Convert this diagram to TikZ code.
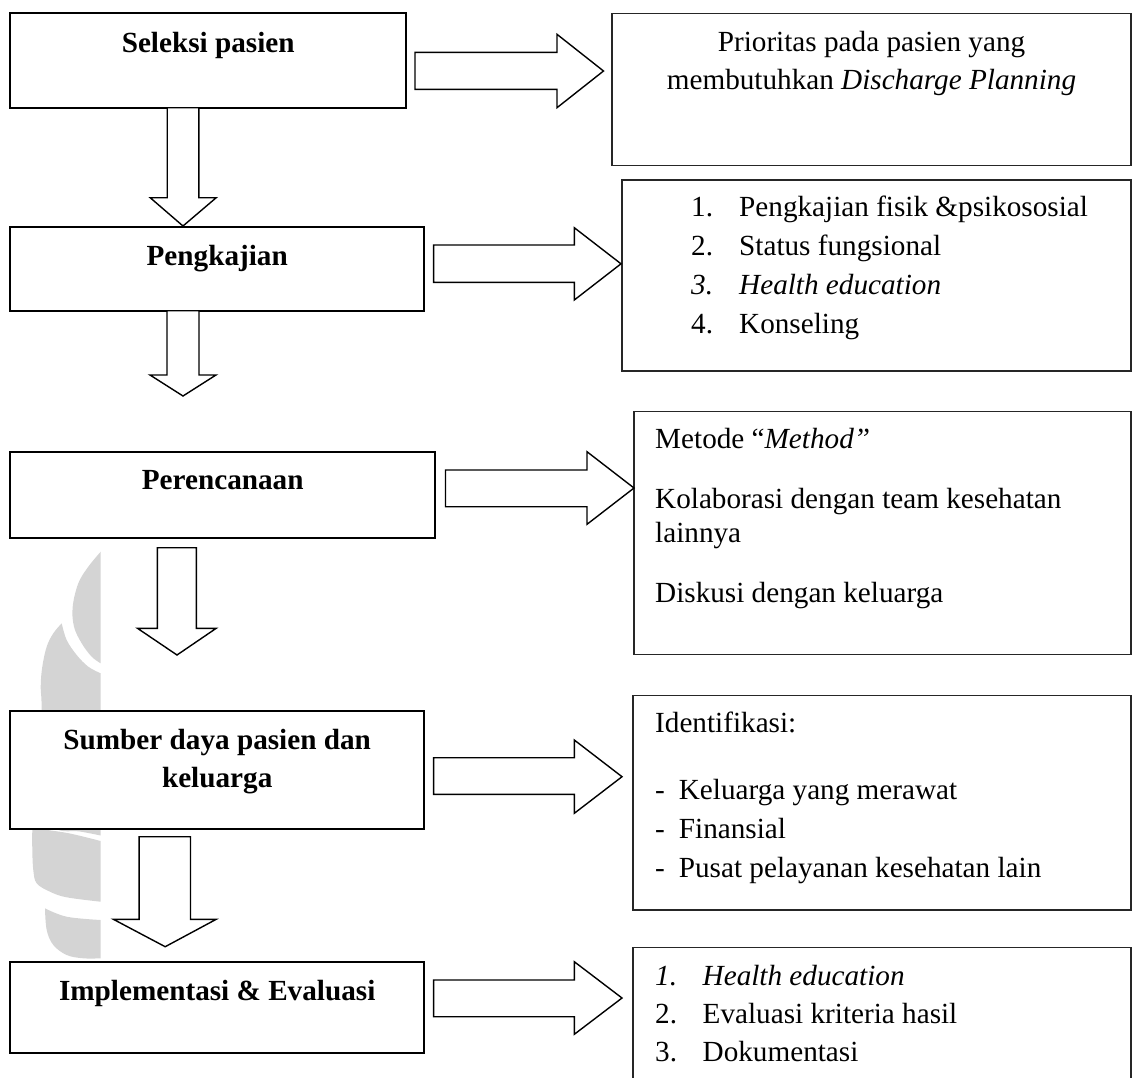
\documentclass[tikz,border=0pt]{standalone}
\usepackage{fontspec}
\setmainfont{Liberation Serif}
\begin{document}
\begin{tikzpicture}[x=1pt,y=-1pt,
  lbox/.style={draw=black, line width=1.9pt, fill=white, inner sep=0pt, outer sep=0pt, anchor=north west},
  rbox/.style={draw=black!85, line width=1.4pt, fill=white, inner sep=0pt, outer sep=0pt, anchor=north west},
  blockarrow/.style={draw=black, line width=1.4pt, fill=white, line join=miter},
  btxt/.style={font=\fontsize{29.2}{35}\selectfont\bfseries, inner sep=0pt, anchor=base},
  ctxt/.style={font=\fontsize{29.2}{35}\selectfont, inner sep=0pt, anchor=base},
  rtxt/.style={font=\fontsize{29.2}{35}\selectfont, inner sep=0pt, anchor=base west},
  wm/.style={fill=black!17}]
\useasboundingbox (0,0) rectangle (1132,1077);
\clip (0,0) rectangle (1132,1077);

% ---------- watermark ----------
\fill[wm] plot[smooth,tension=0.6] coordinates {(100.7,551.7) (88.3,566.7) (78.3,583.3) (72.7,606.7) (74,626.7) (81.7,643.3) (91.7,656.7) (100.7,663.3)} -- cycle;
\fill[wm] plot[smooth,tension=0.6] coordinates {(61.7,623.3) (66.7,640) (76.7,655) (88.3,666.7) (100.7,673.3)}
  -- (100.7,835.5)
  -- plot[smooth,tension=0.6] coordinates {(100.7,835.5) (80,831.5) (55,828) (42,800) (41.7,710) (40.7,686.7) (42.3,666.7) (46.7,646.7) (53.3,633.3) (61.7,623.3)} -- cycle;
\fill[wm] plot[smooth,tension=0.6] coordinates {(32.3,826) (32.3,850) (33.3,870) (36.7,883.3) (50,891.7) (66.7,897.3) (100.7,901.7)}
  -- (100.7,841)
  -- plot[smooth,tension=0.6] coordinates {(100.7,841) (70,833.5) (45,829.5) (32.3,826)} -- cycle;
\fill[wm] plot[smooth,tension=0.6] coordinates {(100.7,920) (66.7,916.7) (45,908.3)}
  -- plot[smooth,tension=0.6] coordinates {(45,908.3) (46.7,930) (53.3,945) (66.7,955) (83.3,958.3) (100.7,958.3)} -- cycle;

% ---------- left boxes ----------
\node[lbox, minimum width=395.7pt, minimum height=94.4pt] (b1) at (10.3,13.3) {};
\node[lbox, minimum width=413.7pt, minimum height=84pt]   (b2) at (10.3,226.7) {};
\node[lbox, minimum width=424.9pt, minimum height=86.6pt] (b3) at (10.3,451.7) {};
\node[lbox, minimum width=413.8pt, minimum height=118.3pt] (b4) at (10.3,710.7) {};
\node[lbox, minimum width=413.8pt, minimum height=91pt]   (b5) at (10.3,962.3) {};

% ---------- right boxes ----------
\node[rbox, minimum width=519pt, minimum height=152.4pt] (r1) at (612,13.3) {};
\node[rbox, minimum width=509pt, minimum height=191pt]   (r2) at (622,180) {};
\node[rbox, minimum width=497pt, minimum height=242.6pt] (r3) at (634,411.7) {};
\node[rbox, minimum width=498pt, minimum height=214.3pt] (r4) at (633,695.7) {};
\node[rbox, minimum width=498pt, minimum height=160pt]   (r5) at (633,947.7) {};

% ---------- right block arrows ----------
\draw[blockarrow] (415,52.3) -- (557,52.3) -- (557,34.3) -- (603.5,71) -- (557,107.7) -- (557,89.3) -- (415,89.3) -- cycle;
\draw[blockarrow] (433.6,245) -- (574.3,245) -- (574.3,227.7) -- (621,263.8) -- (574.3,300) -- (574.3,282.3) -- (433.6,282.3) -- cycle;
\draw[blockarrow] (445.5,470) -- (587,470) -- (587,451.7) -- (634,488) -- (587,524.3) -- (587,506.7) -- (445.5,506.7) -- cycle;
\draw[blockarrow] (433.6,757.7) -- (574.3,757.7) -- (574.3,740) -- (622,776.7) -- (574.3,813.3) -- (574.3,794.3) -- (433.6,794.3) -- cycle;
\draw[blockarrow] (433.6,980) -- (574.3,980) -- (574.3,961.7) -- (622,998) -- (574.3,1034.3) -- (574.3,1016.7) -- (433.6,1016.7) -- cycle;

% ---------- down block arrows ----------
\draw[blockarrow] (167.2,107.7) -- (167.2,197.7) -- (150.2,197.7) -- (183,226) -- (216.2,197.7) -- (198.8,197.7) -- (198.8,107.7) -- cycle;
\draw[blockarrow] (167,310.7) -- (167,375) -- (150,375) -- (183,396) -- (216,375) -- (199,375) -- (199,310.7) -- cycle;
\draw[blockarrow] (157.3,547.7) -- (157.3,628.3) -- (137.5,628.3) -- (177,655) -- (216.2,628.3) -- (196.4,628.3) -- (196.4,547.7) -- cycle;
\draw[blockarrow] (139.1,836.7) -- (139.1,919.3) -- (113.4,919.3) -- (165.2,946.7) -- (216.2,919.3) -- (190.5,919.3) -- (190.5,836.7) -- cycle;

% ---------- left texts ----------
\node[btxt] (t1)  at (208.2,52.7)  {Seleksi pasien};
\node[btxt] (t2)  at (217.2,265)   {Pengkajian};
\node[btxt] (t3)  at (222.7,489.3) {Perencanaan};
\node[btxt] (t4a) at (217.2,749.3) {Sumber daya pasien dan};
\node[btxt] (t4b) at (217.2,787.3) {keluarga};
\node[btxt] (t5)  at (217.2,1000.7) {Implementasi \& Evaluasi};

% ---------- right texts ----------
\node[ctxt] (p1a) at (871.5,51)   {Prioritas pada pasien yang};
\node[ctxt] (p1b) at (871.5,89.3) {membutuhkan \textit{Discharge Planning}};

\node[rtxt] (n21) at (691,216) {1.};
\node[rtxt] (s21) at (739,216) {Pengkajian fisik \&psikososial};
\node[rtxt] (n22) at (691,255) {2.};
\node[rtxt] (s22) at (739,255) {Status fungsional};
\node[rtxt] (n23) at (691,294) {\textit{3.}};
\node[rtxt] (s23) at (739,294) {\textit{Health education}};
\node[rtxt] (n24) at (691,333) {4.};
\node[rtxt] (s24) at (739,333) {Konseling};

\node[rtxt] (s31) at (655,448.3) {Metode “\textit{Method”}};
\node[rtxt] (s32) at (655,508.3) {Kolaborasi dengan team kesehatan};
\node[rtxt] (s33) at (655,542.3) {lainnya};
\node[rtxt] (s34) at (655,602.7) {Diskusi dengan keluarga};

\node[rtxt] (s40) at (655,732.7) {Identifikasi:};
\node[rtxt] (d41) at (655,799.3) {-};
\node[rtxt] (s41) at (678.7,799.3) {Keluarga yang merawat};
\node[rtxt] (d42) at (655,838.3) {-};
\node[rtxt] (s42) at (678.7,838.3) {Finansial};
\node[rtxt] (d43) at (655,877.3) {-};
\node[rtxt] (s43) at (678.7,877.3) {Pusat pelayanan kesehatan lain};

\node[rtxt] (n51) at (655,985) {\textit{1.}};
\node[rtxt] (s51) at (702.5,985) {\textit{Health education}};
\node[rtxt] (n52) at (655,1023.3) {2.};
\node[rtxt] (s52) at (702.5,1023.3) {Evaluasi kriteria hasil};
\node[rtxt] (n53) at (655,1061.7) {3.};
\node[rtxt] (s53) at (702.5,1061.7) {Dokumentasi};
\end{tikzpicture}
\end{document}
